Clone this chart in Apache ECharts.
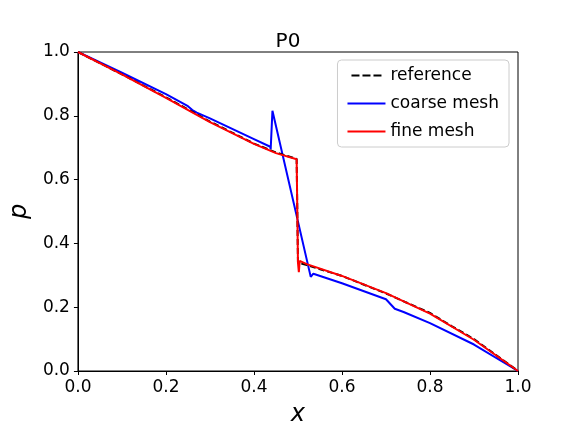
<!DOCTYPE html>
<html>
<head>
<meta charset="utf-8">
<script src="https://cdn.jsdelivr.net/npm/echarts@6/dist/echarts.min.js"></script>
<style>html,body{margin:0;padding:0;background:#fff}#chart{width:576px;height:432px}</style>
</head>
<body>
<div id="chart"></div>
<script>
// values, [x, p]
const reference = [[0,1],[0.1,0.93],[0.2,0.858],[0.3,0.782],[0.4,0.713],[0.45,0.685],[0.497,0.665],[0.5,0.66],[0.5,0.34],[0.52,0.332],[0.6,0.298],[0.7,0.243],[0.8,0.182],[0.85,0.14],[0.9,0.1],[1,0]];
const coarse = [[0,1],[0.1,0.935],[0.2,0.868],[0.25,0.83],[0.26,0.818],[0.27,0.81],[0.3,0.792],[0.4,0.727],[0.437,0.703],[0.438,0.695],[0.442,0.816],[0.529,0.295],[0.535,0.305],[0.6,0.275],[0.7,0.225],[0.72,0.195],[0.74,0.185],[0.8,0.15],[0.9,0.083],[1,0]];
const fine = [[0,1],[0.1,0.93],[0.2,0.856],[0.3,0.78],[0.4,0.712],[0.45,0.683],[0.497,0.664],[0.498,0.665],[0.5,0.34],[0.502,0.31],[0.504,0.345],[0.52,0.335],[0.6,0.298],[0.7,0.244],[0.8,0.18],[0.9,0.098],[1,0]];
const xTicks = ['0.0', '0.2', '0.4', '0.6', '0.8', '1.0'];

const chart = echarts.init(document.getElementById('chart'));
const font = 'DejaVu Sans';
const axisCommon = {
    type: 'value', min: 0, max: 1, interval: 0.2, nameLocation: 'middle',
    axisLine: {show: true, onZero: false, lineStyle: {color: '#000', width: 1}},
    axisTick: {show: true, inside: false, length: 4, lineStyle: {color: '#000'}},
    axisLabel: {color: '#000', fontSize: 17, fontFamily: font, formatter: v => xTicks[Math.round(v / 0.2)]},
    splitLine: {show: false},
    nameTextStyle: {fontSize: 24, fontStyle: 'italic', fontFamily: font, color: '#000'}
};
const dashIcon = 'path://M0,0h8v2h-8zM11,0h8v2h-8zM22,0h8v2h-8z';
chart.setOption({
    animation: false,
    title: {text: 'P0', left: 'center', top: 27, textStyle: {fontSize: 20, fontWeight: 'normal', fontFamily: font, color: '#000'}},
    grid: {left: 72, right: 58, top: 52, bottom: 54, show: true, borderColor: '#000', borderWidth: 1},
    legend: {
        orient: 'vertical', right: 67, top: 60, itemWidth: 38, itemHeight: 2, itemGap: 11,
        padding: [7, 10], borderColor: '#ccc', borderWidth: 1, borderRadius: 4, backgroundColor: 'rgba(255,255,255,0.8)',
        textStyle: {fontSize: 17, fontFamily: font, color: '#000'},
        data: [{name: 'reference', icon: dashIcon}, {name: 'coarse mesh', icon: 'rect'}, {name: 'fine mesh', icon: 'rect'}]
    },
    xAxis: Object.assign({name: 'x', nameGap: 32}, axisCommon),
    yAxis: Object.assign({name: 'p', nameGap: 44}, axisCommon),
    series: [
        {name: 'reference', type: 'line', data: reference, symbol: 'none', z: 3,
            lineStyle: {color: '#000', width: 2, type: [6, 3]}, itemStyle: {color: '#000'}},
        {name: 'coarse mesh', type: 'line', data: coarse, symbol: 'none', z: 2,
            lineStyle: {color: '#0000ff', width: 2}, itemStyle: {color: '#0000ff'}},
        {name: 'fine mesh', type: 'line', data: fine, symbol: 'none', z: 4,
            lineStyle: {color: '#ff0000', width: 2}, itemStyle: {color: '#ff0000'}}
    ]
});
</script>
</body>
</html>
